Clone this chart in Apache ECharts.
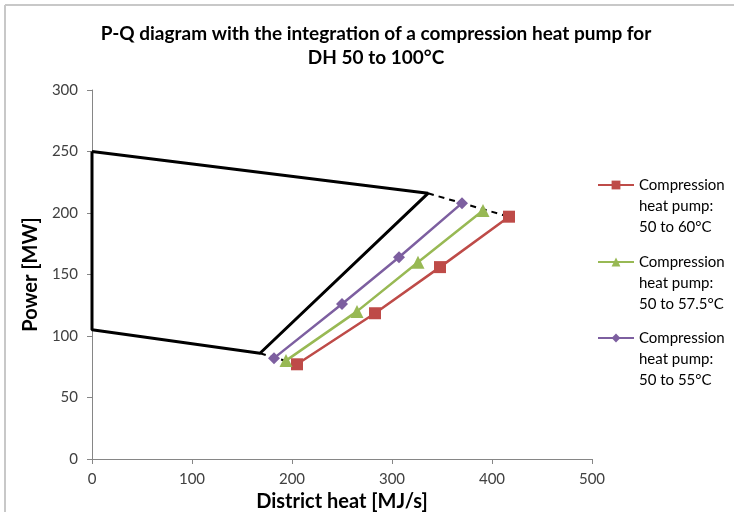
<!DOCTYPE html>
<html><head><meta charset="utf-8">
<script src="https://cdn.jsdelivr.net/npm/echarts@6/dist/echarts.min.js"></script>
<style>html,body{margin:0;padding:0;background:#fff}#c{width:734px;height:512px}</style>
</head><body><div id="c"></div>
<script>
// Data
const titleText = 'P-Q diagram with the integration of a compression heat pump for\nDH 50 to 100°C';
const xAxisName = 'District heat [MJ/s]';
const yAxisName = 'Power [MW]';
// Operating region boundary (x = district heat, y = power)
const boundaryX = [0, 336, 168, 0, 0];
const boundaryY = [250, 216, 86, 105, 250];
// Dashed extensions
const dashTopX = [336, 417];
const dashTopY = [216, 197];
const dashBottomX = [168, 205];
const dashBottomY = [86, 77];
// Heat pump series
const hp60Name = 'Compression\nheat pump:\n50 to 60°C';
const hp60X = [205, 283, 348, 417];
const hp60Y = [77, 118.5, 156, 197];
const hp575Name = 'Compression\nheat pump:\n50 to 57.5°C';
const hp575X = [194, 265, 326, 391];
const hp575Y = [80, 120, 160, 202];
const hp55Name = 'Compression\nheat pump:\n50 to 55°C';
const hp55X = [182, 250, 307, 370];
const hp55Y = [82, 126, 164, 208];

const zip = (xs, ys) => xs.map((x, i) => [x, ys[i]]);
const font = 'Lato, "Open Sans", sans-serif';

function legendFor(name, top) {
  return {
    orient: 'vertical', left: 597, top: top, padding: 0,
    itemWidth: 36, itemHeight: 11, itemGap: 0,
    data: [name],
    formatter: n => '\n\n' + n,
    textStyle: {fontFamily: font, fontSize: 15, color: '#000', lineHeight: 21}
  };
}

const chart = echarts.init(document.getElementById('c'), null, {renderer: 'canvas'});
chart.setOption({
  animation: false,
  backgroundColor: '#fff',
  textStyle: {fontFamily: font},
  title: {
    text: titleText,
    left: 376, top: 22, textAlign: 'center', padding: 0,
    textStyle: {fontFamily: font, fontWeight: 'bold', fontSize: 19, color: '#000', lineHeight: 24}
  },
  grid: {left: 92, right: 142, top: 90, bottom: 53, containLabel: false, outerBoundsMode: 'none'},
  xAxis: {
    type: 'value', min: 0, max: 500, interval: 100,
    name: xAxisName, nameLocation: 'middle', nameGap: 32,
    nameTextStyle: {fontFamily: font, fontWeight: 'bold', fontSize: 20, color: '#000'},
    axisLine: {lineStyle: {color: '#868686'}},
    axisTick: {show: true, length: 5, lineStyle: {color: '#868686'}},
    axisLabel: {fontFamily: font, fontSize: 15, color: '#404040', margin: 13},
    splitLine: {show: false}
  },
  yAxis: {
    type: 'value', min: 0, max: 300, interval: 50,
    name: yAxisName, nameLocation: 'middle', nameGap: 47, nameRotate: 90,
    nameTextStyle: {fontFamily: font, fontWeight: 'bold', fontSize: 20, color: '#000'},
    axisLine: {show: true, lineStyle: {color: '#868686'}},
    axisTick: {show: true, length: 5, lineStyle: {color: '#868686'}},
    axisLabel: {fontFamily: font, fontSize: 15, color: '#404040', margin: 14},
    splitLine: {show: false}
  },
  legend: [legendFor(hp60Name, 132.5), legendFor(hp575Name, 209.5), legendFor(hp55Name, 285.5)],
  graphic: [
    {type: 'line', shape: {x1: 5, y1: 5, x2: 740, y2: 5}, style: {stroke: '#c8c8c8', lineWidth: 2}, silent: true},
    {type: 'line', shape: {x1: 5, y1: 5, x2: 5, y2: 520}, style: {stroke: '#c8c8c8', lineWidth: 2}, silent: true}
  ],
  series: [
    {name: 'boundary', type: 'line', data: zip(boundaryX, boundaryY), symbol: 'none',
     lineStyle: {color: '#000', width: 3}, z: 3},
    {name: 'dashTop', type: 'line', data: zip(dashTopX, dashTopY), symbol: 'none',
     lineStyle: {color: '#000', width: 2, type: [6, 5]}, z: 1},
    {name: 'dashBottom', type: 'line', data: zip(dashBottomX, dashBottomY), symbol: 'none',
     lineStyle: {color: '#000', width: 2, type: [6, 5]}, z: 1},
    {name: hp60Name, type: 'line', data: zip(hp60X, hp60Y), symbol: 'rect', symbolSize: 12,
     itemStyle: {color: '#BE4B48'}, lineStyle: {color: '#BE4B48', width: 2.5}, z: 4},
    {name: hp575Name, type: 'line', data: zip(hp575X, hp575Y), symbol: 'triangle', symbolSize: 13,
     itemStyle: {color: '#98B954'}, lineStyle: {color: '#98B954', width: 2.5}, z: 4},
    {name: hp55Name, type: 'line', data: zip(hp55X, hp55Y), symbol: 'diamond', symbolSize: 12,
     itemStyle: {color: '#7D5FA0'}, lineStyle: {color: '#7D5FA0', width: 2.5}, z: 4}
  ]
});
</script></body></html>
